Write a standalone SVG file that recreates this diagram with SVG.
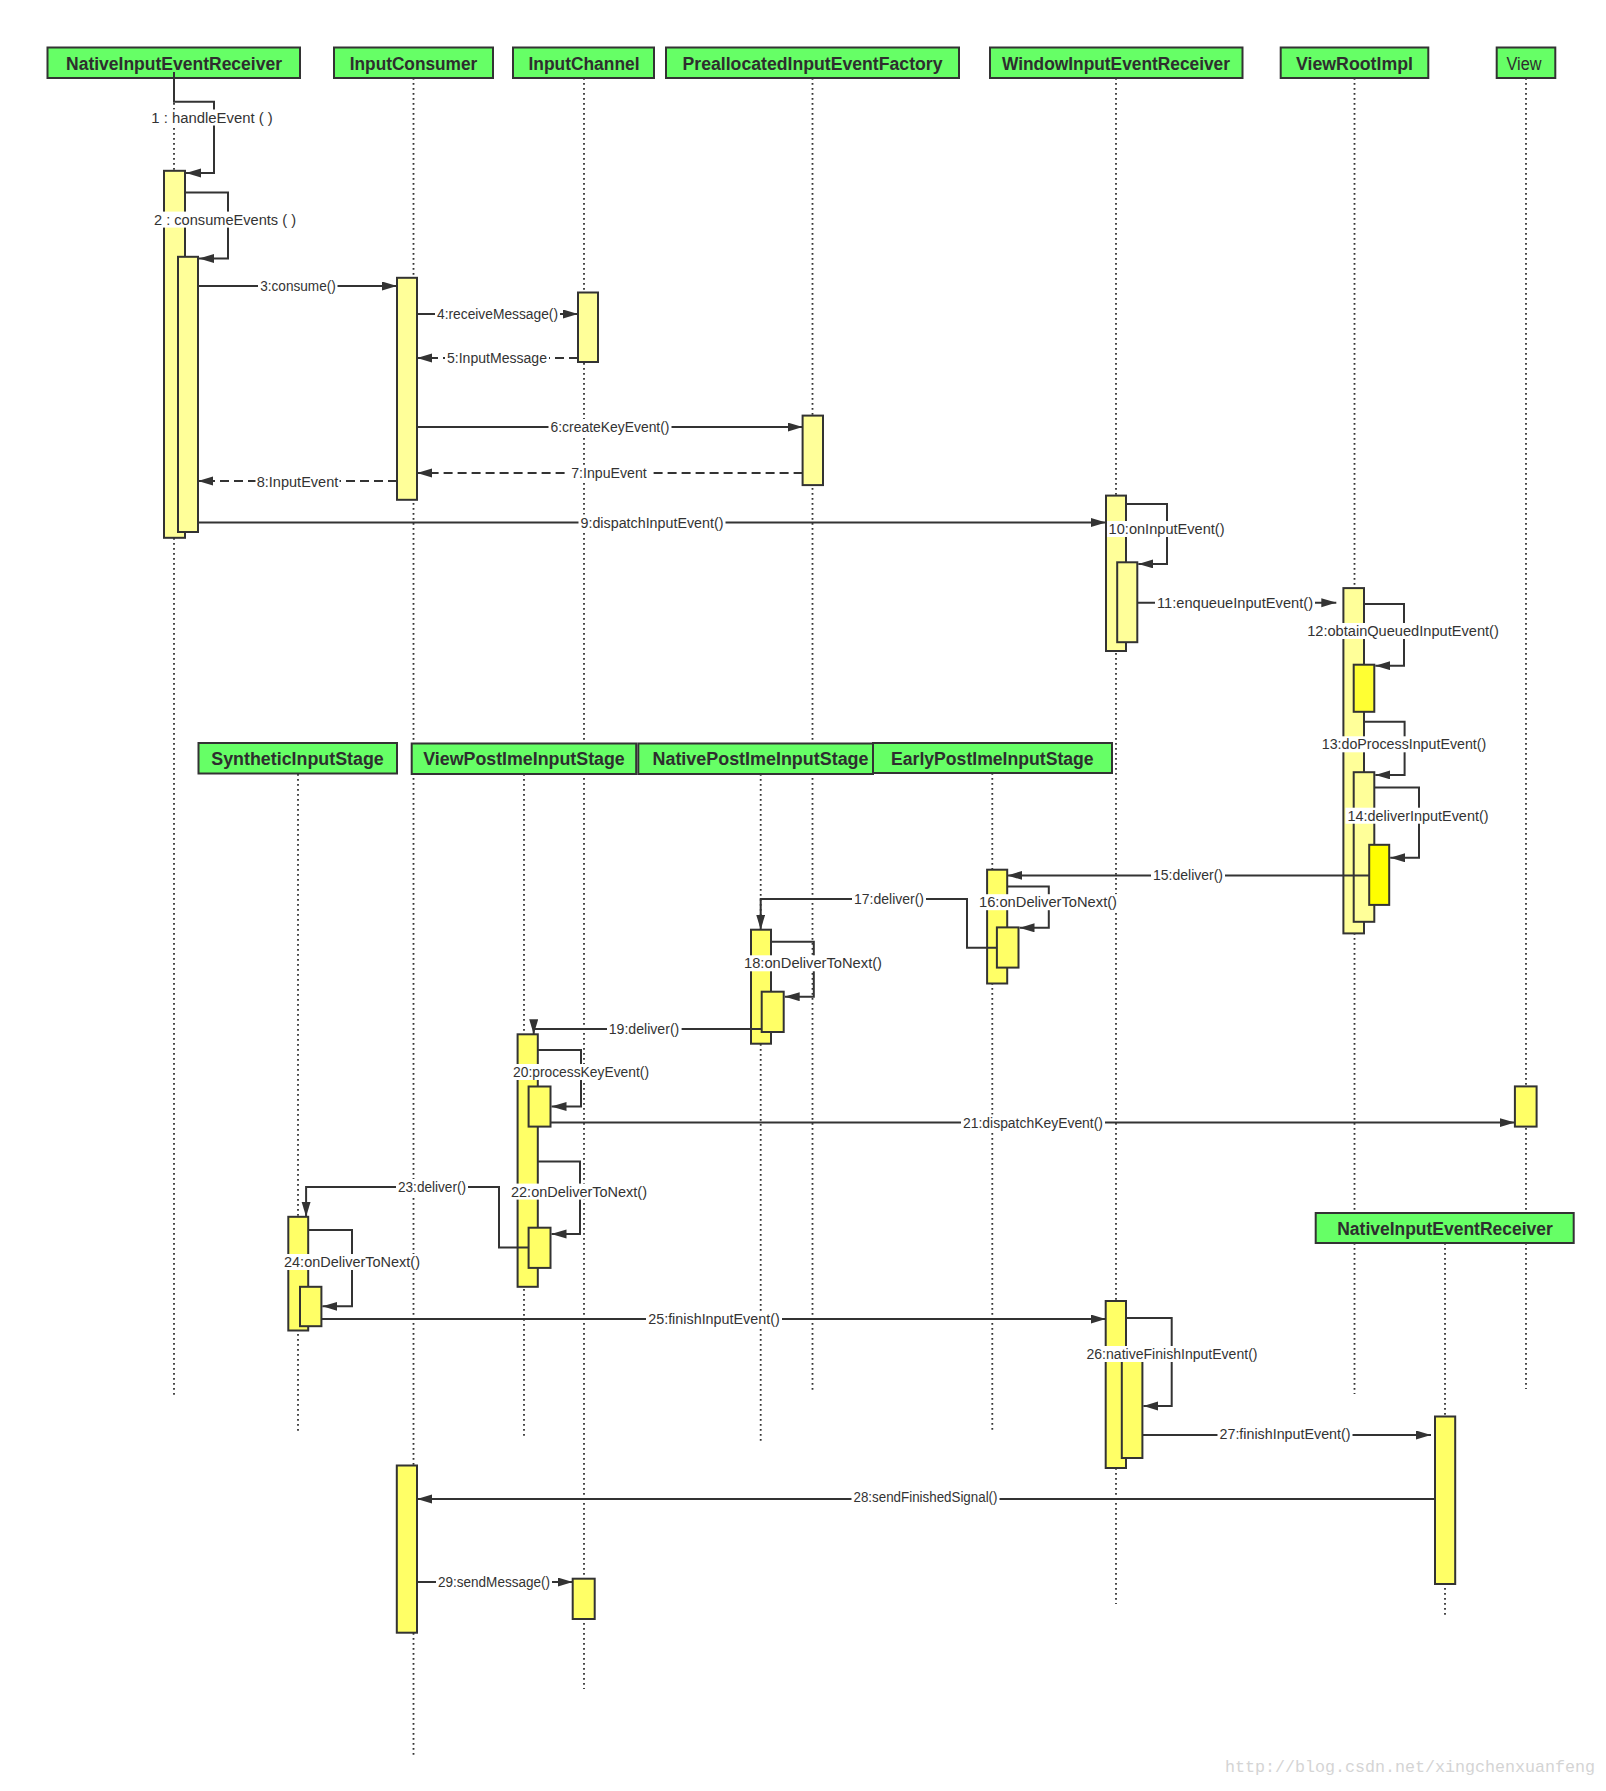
<svg xmlns="http://www.w3.org/2000/svg" width="1606" height="1791" viewBox="0 0 1606 1791">
<defs>
<marker id="ah" markerUnits="userSpaceOnUse" markerWidth="15" markerHeight="10" refX="15" refY="4.5" orient="auto">
<path d="M0,0 L15,4.5 L0,9 z" fill="#333"/>
</marker>
<style>
.hdr{fill:#66ff66;stroke:#333;stroke-width:2}
.ht{font-family:"Liberation Sans",Arial,sans-serif;font-size:18px;font-weight:bold;fill:#2e2e2e;text-anchor:middle}
.htn{font-family:"Liberation Sans",Arial,sans-serif;font-size:18px;fill:#2e2e2e;text-anchor:middle}
.life{stroke:#333;stroke-width:1.8;stroke-dasharray:1.8 3.2;fill:none}
.act{stroke:#333;stroke-width:2}
.a1{fill:#ffff99}
.a2{fill:#ffff66}
.a3{fill:#ffff33}
.a4{fill:#ffff00}
.msg{stroke:#333;stroke-width:2;fill:none;marker-end:url(#ah)}
.dash{stroke-dasharray:9 5}
.lb{fill:#fff}
.lt{font-family:"Liberation Sans",Arial,sans-serif;font-size:14px;fill:#333;text-anchor:middle}
.wm{font-family:"Liberation Mono","DejaVu Sans Mono",monospace;font-size:17px;fill:#d4d4d4}
</style>
</defs>
<rect width="1606" height="1791" fill="#fff"/>

<g id="lifelines">
<line class="life" x1="174" y1="78" x2="174" y2="1395"/>
<line class="life" x1="413.5" y1="78" x2="413.5" y2="1758"/>
<line class="life" x1="584" y1="78" x2="584" y2="1689"/>
<line class="life" x1="812.5" y1="78" x2="812.5" y2="1393"/>
<line class="life" x1="1116" y1="78" x2="1116" y2="1604"/>
<line class="life" x1="1354.5" y1="78" x2="1354.5" y2="1394"/>
<line class="life" x1="1526" y1="78" x2="1526" y2="1389"/>
<line class="life" x1="298" y1="774" x2="298" y2="1433"/>
<line class="life" x1="524" y1="774" x2="524" y2="1438"/>
<line class="life" x1="760.7" y1="774" x2="760.7" y2="1443"/>
<line class="life" x1="992.3" y1="773" x2="992.3" y2="1433"/>
<line class="life" x1="1445" y1="1243" x2="1445" y2="1615"/>
</g>

<g id="node-NativeInputEventReceiver"><rect class="hdr" x="47.5" y="47.5" width="252.5" height="30.5"/><text class="ht" x="174" y="69.5" textLength="216" lengthAdjust="spacingAndGlyphs">NativeInputEventReceiver</text></g>
<g id="node-InputConsumer"><rect class="hdr" x="334" y="47.5" width="159" height="30.5"/><text class="ht" x="413.5" y="69.5" textLength="127.5" lengthAdjust="spacingAndGlyphs">InputConsumer</text></g>
<g id="node-InputChannel"><rect class="hdr" x="513" y="47.5" width="141" height="30.5"/><text class="ht" x="584" y="69.5" textLength="111" lengthAdjust="spacingAndGlyphs">InputChannel</text></g>
<g id="node-PreallocatedInputEventFactory"><rect class="hdr" x="666" y="47.5" width="293" height="30.5"/><text class="ht" x="812.5" y="69.5" textLength="260" lengthAdjust="spacingAndGlyphs">PreallocatedInputEventFactory</text></g>
<g id="node-WindowInputEventReceiver"><rect class="hdr" x="990" y="47.5" width="252.5" height="30.5"/><text class="ht" x="1116" y="69.5" textLength="228" lengthAdjust="spacingAndGlyphs">WindowInputEventReceiver</text></g>
<g id="node-ViewRootImpl"><rect class="hdr" x="1280.7" y="47.5" width="147.6" height="30.5"/><text class="ht" x="1354.5" y="69.5" textLength="117" lengthAdjust="spacingAndGlyphs">ViewRootImpl</text></g>
<g id="node-View"><rect class="hdr" x="1496.7" y="47.5" width="58.6" height="30.5"/><text class="htn" x="1524" y="69.5" textLength="35" lengthAdjust="spacingAndGlyphs">View</text></g>

<g id="activations">
<rect class="act a1" x="164" y="170.8" width="21" height="367"/>
<rect class="act a1" x="178" y="256.8" width="20" height="275.2"/>
<rect class="act a1" x="397" y="277.8" width="20" height="222"/>
<rect class="act a1" x="578" y="292.5" width="20" height="69.5"/>
<rect class="act a1" x="802.6" y="415.6" width="20.4" height="69.5"/>
<rect class="act a1" x="1106" y="495.6" width="20" height="155.4"/>
<rect class="act a1" x="1117.2" y="562.3" width="20.1" height="79.9"/>
<rect class="act a1" x="1343.4" y="588.1" width="20.6" height="345.3"/>
<rect class="act a3" x="1353.7" y="664.7" width="20.6" height="47.1"/>
<rect class="act a1" x="1353.7" y="772.2" width="20.6" height="149.6"/>
<rect class="act a4" x="1369.2" y="844.8" width="20" height="60.1"/>
<rect class="act a2" x="987.1" y="869.7" width="20.1" height="113.8"/>
<rect class="act a2" x="996.9" y="927.4" width="21.6" height="40.2"/>
<rect class="act a2" x="751" y="929.7" width="20" height="114"/>
<rect class="act a2" x="761.7" y="991.7" width="22" height="40.3"/>
<rect class="act a2" x="517.6" y="1034.3" width="20.2" height="252.5"/>
<rect class="act a2" x="528.6" y="1086.5" width="21.9" height="40.1"/>
<rect class="act a2" x="528.6" y="1227.7" width="21.9" height="40.2"/>
<rect class="act a2" x="1514.9" y="1086.4" width="21.7" height="40.2"/>
<rect class="act a2" x="288.3" y="1216.8" width="19.9" height="113.7"/>
<rect class="act a2" x="300" y="1286.8" width="21.4" height="39.4"/>
<rect class="act a2" x="1105.7" y="1301" width="20.3" height="167"/>
<rect class="act a2" x="1121.8" y="1350" width="20.6" height="108"/>
<rect class="act a2" x="1435" y="1416.5" width="20.2" height="167.5"/>
<rect class="act a2" x="396.8" y="1465.5" width="20.2" height="167.2"/>
<rect class="act a2" x="572.7" y="1578.7" width="22" height="40.3"/>
</g>

<g id="connectors">
<path class="msg" d="M174,72 V101.7 H214 V173 H186"/>
<path class="msg" d="M185,192.6 H228 V258.5 H199"/>
<path class="msg" d="M198,286 H397"/>
<path class="msg" d="M417,314 H578"/>
<path class="msg dash" d="M578,358 H417"/>
<path class="msg" d="M417,427 H802.6"/>
<path class="msg dash" d="M802.6,473 H417"/>
<path class="msg dash" d="M397,481 H198"/>
<path class="msg" d="M198,522.6 H1106"/>
<path class="msg" d="M1126,503.9 H1167 V563.9 H1138.3"/>
<path class="msg" d="M1137.3,602.7 H1336.3"/>
<path class="msg" d="M1364,604 H1404 V665.7 H1375.3"/>
<path class="msg" d="M1364,721.8 H1404.6 V774.9 H1375.3"/>
<path class="msg" d="M1374.3,787.5 H1419 V857.8 H1390.2"/>
<path class="msg" d="M1369.2,875.4 H1007.2"/>
<path class="msg" d="M1007.2,886.6 H1048.8 V927.8 H1019.5"/>
<path class="msg" d="M996.9,947.7 H967 V899 H760.7 V929.7"/>
<path class="msg" d="M771,941.7 H813.8 V996.7 H784.7"/>
<path class="msg" d="M761.7,1029 H533.7 V1034.3"/>
<path class="msg" d="M537.8,1050 H581 V1106.5 H551.5"/>
<path class="msg" d="M550.5,1122.6 H1514.9"/>
<path class="msg" d="M537.8,1161.4 H580 V1234 H551.5"/>
<path class="msg" d="M528.6,1247.6 H499 V1187 H306.1 V1216.8"/>
<path class="msg" d="M308.2,1230 H352 V1306.3 H322.4"/>
<path class="msg" d="M321.4,1319 H1105.7"/>
<path class="msg" d="M1126,1318 H1171.7 V1406 H1143.4"/>
<path class="msg" d="M1142.4,1435 H1431"/>
<path class="msg" d="M1435,1499 H417"/>
<path class="msg" d="M417,1582 H572.7"/>
</g>

<g id="labels">
<rect class="lb" x="148.5" y="109.5" width="127.5" height="16"/><text class="lt" x="212" y="122.5" textLength="121.5" lengthAdjust="spacingAndGlyphs">1 : handleEvent (  )</text>
<rect class="lb" x="151" y="211.6" width="148" height="16"/><text class="lt" x="225" y="224.6" textLength="142" lengthAdjust="spacingAndGlyphs">2 : consumeEvents (  )</text>
<rect class="lb" x="258" y="278" width="79.5" height="16"/><text class="lt" x="298" y="291" textLength="75.5" lengthAdjust="spacingAndGlyphs">3:consume()</text>
<rect class="lb" x="435" y="306" width="125" height="16"/><text class="lt" x="497.5" y="319" textLength="121" lengthAdjust="spacingAndGlyphs">4:receiveMessage()</text>
<rect class="lb" x="445" y="350" width="104" height="16"/><text class="lt" x="497" y="363" textLength="100" lengthAdjust="spacingAndGlyphs">5:InputMessage</text>
<rect class="lb" x="548.5" y="419" width="123" height="16"/><text class="lt" x="610" y="432" textLength="119" lengthAdjust="spacingAndGlyphs">6:createKeyEvent()</text>
<rect class="lb" x="569" y="465" width="80" height="16"/><text class="lt" x="609" y="478" textLength="75.6" lengthAdjust="spacingAndGlyphs">7:InpuEvent</text>
<rect class="lb" x="255.5" y="473.5" width="84" height="16"/><text class="lt" x="297.5" y="486.5" textLength="81.7" lengthAdjust="spacingAndGlyphs">8:InputEvent</text>
<rect class="lb" x="578.5" y="514.6" width="147" height="16"/><text class="lt" x="652" y="527.6" textLength="143" lengthAdjust="spacingAndGlyphs">9:dispatchInputEvent()</text>
<rect class="lb" x="1107" y="521" width="119.5" height="16"/><text class="lt" x="1166.6" y="534" textLength="116" lengthAdjust="spacingAndGlyphs">10:onInputEvent()</text>
<rect class="lb" x="1155" y="594.7" width="160" height="16"/><text class="lt" x="1235" y="607.7" textLength="156" lengthAdjust="spacingAndGlyphs">11:enqueueInputEvent()</text>
<rect class="lb" x="1305" y="623" width="196" height="16"/><text class="lt" x="1403" y="636" textLength="191.7" lengthAdjust="spacingAndGlyphs">12:obtainQueuedInputEvent()</text>
<rect class="lb" x="1320" y="736.3" width="168" height="16"/><text class="lt" x="1404" y="749.3" textLength="164.5" lengthAdjust="spacingAndGlyphs">13:doProcessInputEvent()</text>
<rect class="lb" x="1345.5" y="807.7" width="145" height="16"/><text class="lt" x="1418" y="820.7" textLength="141" lengthAdjust="spacingAndGlyphs">14:deliverInputEvent()</text>
<rect class="lb" x="1151" y="867.4" width="74" height="16"/><text class="lt" x="1188" y="880.4" textLength="70" lengthAdjust="spacingAndGlyphs">15:deliver()</text>
<rect class="lb" x="977" y="894.2" width="142" height="16"/><text class="lt" x="1048" y="907.2" textLength="138" lengthAdjust="spacingAndGlyphs">16:onDeliverToNext()</text>
<rect class="lb" x="852" y="891" width="74" height="16"/><text class="lt" x="889" y="904" textLength="70" lengthAdjust="spacingAndGlyphs">17:deliver()</text>
<rect class="lb" x="742" y="955.3" width="142" height="16"/><text class="lt" x="813" y="968.3" textLength="138" lengthAdjust="spacingAndGlyphs">18:onDeliverToNext()</text>
<rect class="lb" x="607" y="1021" width="74.6" height="16"/><text class="lt" x="644" y="1034" textLength="70.6" lengthAdjust="spacingAndGlyphs">19:deliver()</text>
<rect class="lb" x="511" y="1064" width="140" height="16"/><text class="lt" x="581" y="1077" textLength="136" lengthAdjust="spacingAndGlyphs">20:processKeyEvent()</text>
<rect class="lb" x="961" y="1114.6" width="144" height="16"/><text class="lt" x="1033" y="1127.6" textLength="140" lengthAdjust="spacingAndGlyphs">21:dispatchKeyEvent()</text>
<rect class="lb" x="509" y="1183.6" width="140" height="16"/><text class="lt" x="579" y="1196.6" textLength="136" lengthAdjust="spacingAndGlyphs">22:onDeliverToNext()</text>
<rect class="lb" x="396" y="1179" width="72" height="16"/><text class="lt" x="432" y="1192" textLength="68" lengthAdjust="spacingAndGlyphs">23:deliver()</text>
<rect class="lb" x="282" y="1254" width="140" height="16"/><text class="lt" x="352" y="1267" textLength="136" lengthAdjust="spacingAndGlyphs">24:onDeliverToNext()</text>
<rect class="lb" x="646" y="1311" width="136" height="16"/><text class="lt" x="714" y="1324" textLength="131.6" lengthAdjust="spacingAndGlyphs">25:finishInputEvent()</text>
<rect class="lb" x="1084.5" y="1346" width="175" height="16"/><text class="lt" x="1172" y="1359" textLength="171" lengthAdjust="spacingAndGlyphs">26:nativeFinishInputEvent()</text>
<rect class="lb" x="1217.5" y="1426" width="135" height="16"/><text class="lt" x="1285" y="1439" textLength="131" lengthAdjust="spacingAndGlyphs">27:finishInputEvent()</text>
<rect class="lb" x="851.5" y="1489" width="148" height="16"/><text class="lt" x="925.5" y="1502" textLength="144" lengthAdjust="spacingAndGlyphs">28:sendFinishedSignal()</text>
<rect class="lb" x="436" y="1574" width="116" height="16"/><text class="lt" x="494" y="1587" textLength="112" lengthAdjust="spacingAndGlyphs">29:sendMessage()</text>
</g>

<g id="node-SyntheticInputStage"><rect class="hdr" x="198.5" y="743" width="198.5" height="30.5"/><text class="ht" x="297.5" y="764.5" textLength="172.5" lengthAdjust="spacingAndGlyphs">SyntheticInputStage</text></g>
<g id="node-ViewPostImeInputStage"><rect class="hdr" x="411.7" y="743.5" width="224.5" height="30.5"/><text class="ht" x="524" y="765" textLength="201.5" lengthAdjust="spacingAndGlyphs">ViewPostImeInputStage</text></g>
<g id="node-NativePostImeInputStage"><rect class="hdr" x="638.3" y="743.5" width="234.7" height="30.5"/><text class="ht" x="760.5" y="765" textLength="216" lengthAdjust="spacingAndGlyphs">NativePostImeInputStage</text></g>
<g id="node-EarlyPostImeInputStage"><rect class="hdr" x="873" y="743" width="239" height="30"/><text class="ht" x="992.3" y="764.5" textLength="202.6" lengthAdjust="spacingAndGlyphs">EarlyPostImeInputStage</text></g>
<g id="node-NativeInputEventReceiver-2"><rect class="hdr" x="1315.7" y="1213" width="258" height="30"/><text class="ht" x="1445" y="1234.5" textLength="215.5" lengthAdjust="spacingAndGlyphs">NativeInputEventReceiver</text></g>

<text class="wm" x="1225" y="1772" textLength="370" lengthAdjust="spacingAndGlyphs">http://blog.csdn.net/xingchenxuanfeng</text>
</svg>
